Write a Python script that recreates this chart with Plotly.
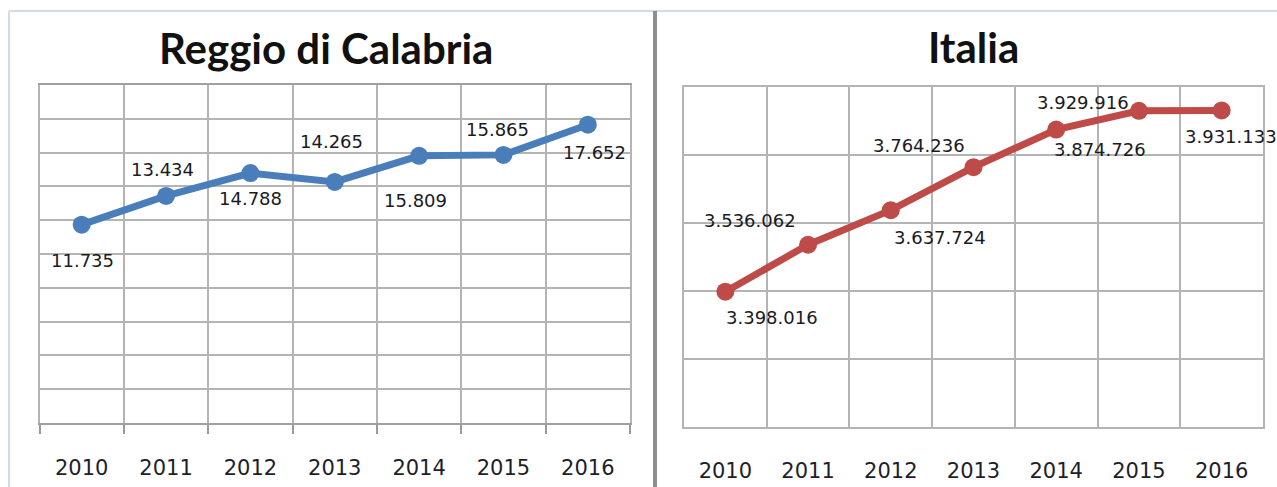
import plotly.graph_objects as go

years = [2010, 2011, 2012, 2013, 2014, 2015, 2016]
year_labels = ["2010", "2011", "2012", "2013", "2014", "2015", "2016"]
reggio = [11735, 13434, 14788, 14265, 15809, 15865, 17652]
italia = [3398016, 3536062, 3637724, 3764236, 3874726, 3929916, 3931133]
title_left = "Reggio di Calabria"
title_right = "Italia"

# label offsets in pixels (dx, dy-down) - style only
off_left = [(1, 36), (-4, -26), (0, 25), (-3, -40), (-4, 45), (-6, -25), (7, 28)]
off_right = [(47, 26), (-58, -24), (49, 27), (-55, -22), (44, 20), (-56, -8), (9, 26)]

W, H = 1277, 487
BLUE = "#4A7EBB"
RED = "#BE4B48"
GRID = "#b4b4b4"

def px(x):
    return x / W

def py(y):
    return 1 - y / H

def fmt(v):
    return f"{v:,}".replace(",", ".")

fig = go.Figure()
fig.add_trace(go.Scatter(x=years, y=reggio, mode="lines+markers",
                         line=dict(color=BLUE, width=7),
                         marker=dict(color=BLUE, size=18),
                         xaxis="x", yaxis="y", showlegend=False, hoverinfo="skip"))
fig.add_trace(go.Scatter(x=years, y=italia, mode="lines+markers",
                         line=dict(color=RED, width=7),
                         marker=dict(color=RED, size=18),
                         xaxis="x2", yaxis="y2", showlegend=False, hoverinfo="skip"))

tickfont = dict(family="DejaVu Sans", size=21, color="#1e1e2a")
labfont = dict(family="DejaVu Sans", size=18, color="#1a1a22")

xrange_ = [years[0] - 0.5, years[-1] + 0.5]

def xaxis_cfg(domain, anchor, minor_ticks, standoff, linecolor):
    return dict(domain=domain, anchor=anchor, type="linear", range=xrange_,
                tickmode="array", tickvals=years, ticktext=year_labels,
                ticks="", showgrid=False, zeroline=False,
                minor=dict(tickmode="linear", tick0=years[0] - 0.5, dtick=1,
                           showgrid=True, gridcolor=GRID, gridwidth=2,
                           ticks="outside" if minor_ticks else "", ticklen=9,
                           tickcolor="#9a9a9a", tickwidth=2),
                showline=True, mirror=True, linecolor=linecolor, linewidth=2,
                tickfont=tickfont, ticklabelstandoff=standoff,
                automargin=False, fixedrange=True)

def yaxis_cfg(domain, anchor, rng, dt):
    return dict(domain=domain, anchor=anchor, range=rng, dtick=dt,
                showgrid=True, gridcolor=GRID, gridwidth=2, showticklabels=False,
                ticks="", showline=True, mirror=True, linecolor=GRID, linewidth=2,
                zeroline=False, automargin=False, fixedrange=True)

fig.update_layout(
    width=W, height=H,
    margin=dict(l=0, r=0, t=0, b=0, autoexpand=False),
    paper_bgcolor="white", plot_bgcolor="white",
    xaxis=xaxis_cfg([px(39.5), px(630)], "y", True, 25, "#a0a0a0"),
    yaxis=yaxis_cfg([py(423), py(85)], "x", [0, 20000], 2000),
    xaxis2=xaxis_cfg([px(684), px(1263)], "y2", False, 24, GRID),
    yaxis2=yaxis_cfg([py(427), py(87)], "x2", [3000000, 4000000], 200000),
)

ann = []
for xv, v, (dx, dy) in zip(years, reggio, off_left):
    ann.append(dict(x=xv, y=v, xref="x", yref="y", text=fmt(v), showarrow=False,
                    xshift=dx, yshift=-dy, font=labfont))
for xv, v, (dx, dy) in zip(years, italia, off_right):
    ann.append(dict(x=xv, y=v, xref="x2", yref="y2", text=fmt(v), showarrow=False,
                    xshift=dx, yshift=-dy, font=labfont))
ann.append(dict(x=px(326), y=py(48), xref="paper", yref="paper", text=title_left,
                showarrow=False, xanchor="center", yanchor="middle",
                font=dict(family="Lato", size=42, color="#111111", weight="bold")))
ann.append(dict(x=px(973), y=py(47), xref="paper", yref="paper", text=title_right,
                showarrow=False, xanchor="center", yanchor="middle",
                font=dict(family="Lato", size=42, color="#111111", weight="bold")))
fig.update_layout(annotations=ann)

shapes = [
    dict(type="line", xref="paper", yref="paper", x0=px(9), x1=1, y0=py(11), y1=py(11),
         line=dict(color="#d3dbe8", width=2)),
    dict(type="line", xref="paper", yref="paper", x0=px(9), x1=px(9), y0=py(11), y1=0,
         line=dict(color="#d3dbe8", width=2)),
    dict(type="line", xref="paper", yref="paper", x0=px(655), x1=px(655), y0=py(11), y1=0,
         line=dict(color="#8e8e8e", width=4)),
]
fig.update_layout(shapes=shapes)

fig.write_html("out.html", config={"displayModeBar": False},
               post_script="document.body.style.margin='0';")
